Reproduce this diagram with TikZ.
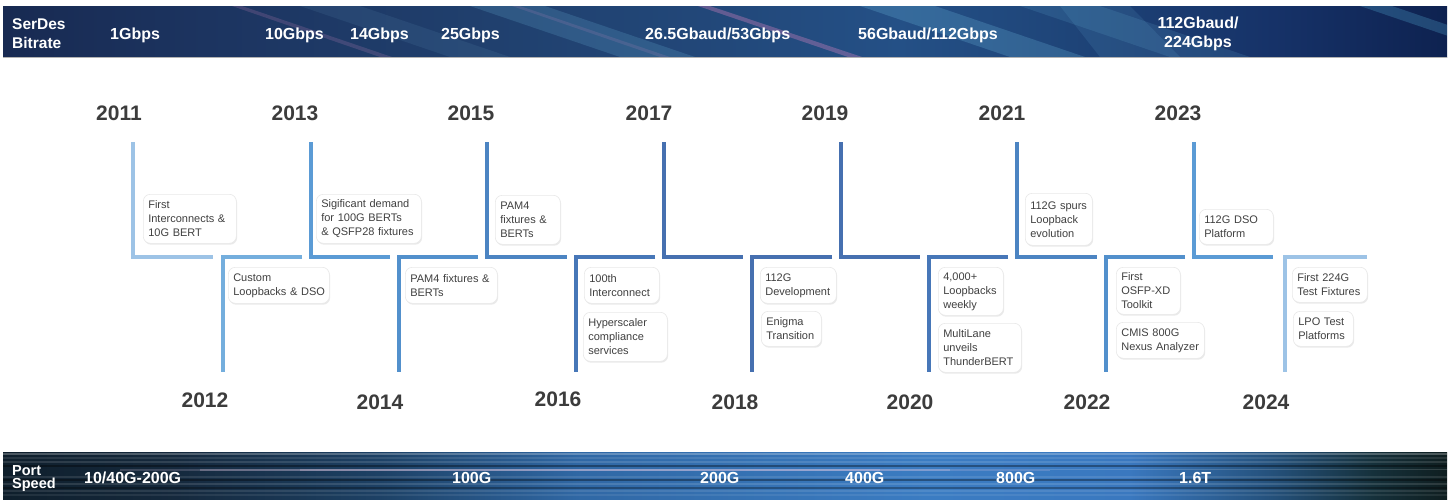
\documentclass[tikz,border=0pt]{standalone}
\usepackage{fontspec}
\setmainfont{Liberation Sans}
\usetikzlibrary{shadows}

\definecolor{txtgray}{HTML}{404040}
\definecolor{yeargray}{HTML}{3C3C3C}
\definecolor{ca}{HTML}{9DC3E6}
\definecolor{cb}{HTML}{74AEDD}
\definecolor{cc}{HTML}{5B9BD5}
\definecolor{cd}{HTML}{5290CC}
\definecolor{ce}{HTML}{4C84C2}
\definecolor{cf}{HTML}{4777B8}
\definecolor{cg}{HTML}{4670B0}

\pgfdeclarehorizontalshading{topban}{100bp}{%
 color(0bp)=(rgb,255:red,24;green,42;blue,82);
 color(25bp)=(rgb,255:red,24;green,42;blue,82);
 color(32bp)=(rgb,255:red,28;green,52;blue,96);
 color(42bp)=(rgb,255:red,32;green,64;blue,110);
 color(50bp)=(rgb,255:red,34;green,72;blue,122);
 color(56bp)=(rgb,255:red,36;green,80;blue,134);
 color(62bp)=(rgb,255:red,30;green,68;blue,120);
 color(69bp)=(rgb,255:red,22;green,50;blue,104);
 color(75bp)=(rgb,255:red,14;green,34;blue,80);
 color(100bp)=(rgb,255:red,14;green,34;blue,80)}

\pgfdeclarehorizontalshading{botban}{100bp}{%
 color(0bp)=(rgb,255:red,15;green,31;blue,44);
 color(25bp)=(rgb,255:red,15;green,31;blue,44);
 color(31bp)=(rgb,255:red,21;green,41;blue,61);
 color(38bp)=(rgb,255:red,29;green,65;blue,101);
 color(45bp)=(rgb,255:red,48;green,104;blue,165);
 color(57bp)=(rgb,255:red,59;green,124;blue,194);
 color(64bp)=(rgb,255:red,58;green,120;blue,191);
 color(69bp)=(rgb,255:red,36;green,80;blue,122);
 color(72.5bp)=(rgb,255:red,21;green,48;blue,58);
 color(75bp)=(rgb,255:red,15;green,30;blue,32);
 color(100bp)=(rgb,255:red,15;green,30;blue,32)}

\newcommand{\twoh}{36pt}
\newcommand{\threeh}{49pt}

\begin{document}
\begin{tikzpicture}[x=1pt,y=-1pt,
  yr/.style={font=\fontsize{21}{21}\selectfont\bfseries, text=yeargray, inner sep=0pt},
  ev/.style={draw=black!9, line width=0.6pt, fill=white, rounded corners=7pt,
    align=left, anchor=north west, inner xsep=5pt, inner ysep=0pt,
    font=\fontsize{11}{14}\selectfont, text=txtgray,
    drop shadow={shadow xshift=0.8pt, shadow yshift=-1.4pt, opacity=0.16}},
  tl/.style={line width=3.3pt, line join=miter},
  ban/.style={font=\fontsize{16}{16}\selectfont\bfseries, text=white, inner sep=0pt, anchor=base west},
  lab/.style={font=\fontsize{15.5}{15.5}\selectfont\bfseries, text=white, inner sep=0pt, anchor=base west},
]
\useasboundingbox (0,0) rectangle (1453,499);
\fill[white] (0,0) rectangle (1453,499);

% ---------- top banner ----------
\begin{scope}
\clip (3,6) rectangle (1447,57);
\shade[shading=topban] (3,6) rectangle (1447,57);
% diagonal light streaks running down to the right
\fill[cyan!40!white, opacity=0.08] (300,6) -- (360,6) -- (510,57) -- (450,57) -- cycle;
\fill[magenta!40!white, opacity=0.16] (232,6) -- (242,6) -- (392,57) -- (380,57) -- cycle;
\fill[cyan!50!white, opacity=0.16] (470,6) -- (545,6) -- (695,57) -- (620,57) -- cycle;
\fill[magenta!40!white, opacity=0.12] (512,6) -- (520,6) -- (670,57) -- (660,57) -- cycle;
\fill[magenta!45!white, opacity=0.30] (698,6) -- (710,6) -- (862,57) -- (848,57) -- cycle;
\fill[cyan!50!white, opacity=0.20] (860,6) -- (935,6) -- (1085,57) -- (1010,57) -- cycle;
\fill[cyan!50!white, opacity=0.12] (1020,6) -- (1100,6) -- (1250,57) -- (1170,57) -- cycle;
\fill[cyan!60!white, opacity=0.22] (1360,6) -- (1392,6) -- (1542,57) -- (1510,57) -- cycle;
\fill[cyan!50!white, opacity=0.10] (1100,57) -- (1180,57) -- (1130,6) -- (1060,6) -- cycle;
\end{scope}
\draw[gray!60, line width=0.8pt] (3,57) -- (1447,57);

\node[lab] (sd1) at (12,29) {SerDes};
\node[lab] (sd2) at (12,48.5) {Bitrate};
\node[ban] (t1) at (110,39.5) {1Gbps};
\node[ban] (t2) at (265,39.5) {10Gbps};
\node[ban] (t3) at (350,39.5) {14Gbps};
\node[ban] (t4) at (441,39.5) {25Gbps};
\node[ban] (t5) at (645,39.5) {26.5Gbaud/53Gbps};
\node[ban] (t6) at (858,39.5) {56Gbaud/112Gbps};
\node[ban, anchor=base] (t7a) at (1198,28) {112Gbaud/};
\node[ban, anchor=base] (t7b) at (1198,47) {224Gbps};

% ---------- bottom banner ----------
\begin{scope}
\clip (3,452) rectangle (1447,499);
\shade[shading=botban] (3,452) rectangle (1447,499);
\foreach \yy/\op in {454/0.25, 458/0.10, 462/0.12, 477/0.10, 484/0.12, 491/0.10, 495/0.08}
  \draw[white, opacity=\op, line width=1.2pt] (3,\yy) -- (1447,\yy);
\foreach \yy/\op in {466/0.35, 480/0.35, 488/0.3}
  \draw[black, opacity=\op, line width=1.5pt] (3,\yy) -- (1447,\yy);
\draw[white!80!violet, opacity=0.20, line width=2pt] (120,469.5) -- (1050,469.5);
\draw[white!80!violet, opacity=0.25, line width=2pt] (200,469.5) -- (950,469.5);
\draw[white!80!violet, opacity=0.25, line width=2pt] (300,469.5) -- (880,469.5);
\draw[white, opacity=0.15, line width=1pt] (1050,469.5) -- (1447,469.5);
\end{scope}

\node[font=\fontsize{14.5}{14.5}\selectfont\bfseries, text=white, inner sep=0pt, anchor=base west] (ps1) at (12,475) {Port};
\node[font=\fontsize{14.5}{14.5}\selectfont\bfseries, text=white, inner sep=0pt, anchor=base west] (ps2) at (12,488) {Speed};
\node[ban] (p1) at (84,483) {10/40G-200G};
\node[ban] (p2) at (452,483) {100G};
\node[ban] (p3) at (700,483) {200G};
\node[ban] (p4) at (845,483) {400G};
\node[ban] (p5) at (996,483) {800G};
\node[ban] (p6) at (1179,483) {1.6T};

% ---------- timeline lines ----------
\foreach \x/\e/\c [count=\i] in {133/213/ca, 311/390/cc, 487/567/ce, 664/743/cg, 841/920/cg, 1017/1097/ce, 1194/1273/cc}{
  \coordinate (ut\i) at (\x,142);
  \coordinate (uc\i) at (\x,257);
  \coordinate (ue\i) at (\e,257);
  \draw[tl, draw=\c] (ut\i) -- (uc\i) -- (ue\i);
}
\foreach \x/\e/\c [count=\i] in {223/302/cb, 399/478/cd, 576/655/cf, 752/832/cg, 929/1008/cf, 1106/1185/cd, 1285/1367/ca}{
  \coordinate (le\i) at (\e,257);
  \coordinate (lc\i) at (\x,257);
  \coordinate (lb\i) at (\x,372);
  \draw[tl, draw=\c] (le\i) -- (lc\i) -- (lb\i);
}

% ---------- years ----------
\node[yr] (y2011) at (119,113) {2011};
\node[yr] (y2013) at (295,113) {2013};
\node[yr] (y2015) at (471,113) {2015};
\node[yr] (y2017) at (649,113) {2017};
\node[yr] (y2019) at (825,113) {2019};
\node[yr] (y2021) at (1002,113) {2021};
\node[yr] (y2023) at (1178,113) {2023};
\node[yr] (y2012) at (205,400) {2012};
\node[yr] (y2014) at (380,402) {2014};
\node[yr] (y2016) at (558,399) {2016};
\node[yr] (y2018) at (735,402) {2018};
\node[yr] (y2020) at (910,402) {2020};
\node[yr] (y2022) at (1087,402) {2022};
\node[yr] (y2024) at (1266,402) {2024};

% ---------- event boxes ----------
\node[ev, text width=83pt, minimum height=\threeh] (b2011) at (143,194) {First\\Interconnects~\&\\10G~BERT};
\node[ev, text width=91pt, minimum height=\twoh] (b2012) at (228,267) {Custom\\Loopbacks~\&~DSO};
\node[ev, text width=95pt, minimum height=\threeh] (b2013) at (316,194) {Sigificant~demand\\for~100G~BERTs\\\&~QSFP28~fixtures};
\node[ev, text width=82pt, minimum height=\twoh] (b2014) at (405,267) {PAM4~fixtures~\&\\BERTs};
\node[ev, text width=55pt, minimum height=\threeh] (b2015) at (495,195) {PAM4\\fixtures~\&\\BERTs};
\node[ev, text width=65pt, minimum height=\twoh] (b2016a) at (584,267) {100th\\Interconnect};
\node[ev, text width=74pt, minimum height=\threeh] (b2016b) at (583,312) {Hyperscaler\\compliance\\services};
\node[ev, text width=66pt, minimum height=\twoh] (b2018a) at (760,267) {112G\\Development};
\node[ev, text width=50pt, minimum height=35pt] (b2018b) at (761,311) {Enigma\\Transition};
\node[ev, text width=55pt, minimum height=48pt] (b2020a) at (938,267) {4,000+\\Loopbacks\\weekly};
\node[ev, text width=73pt, minimum height=\threeh] (b2020b) at (938,323) {MultiLane\\unveils\\ThunderBERT};
\node[ev, text width=57pt, minimum height=52pt] (b2021) at (1025,193) {112G~spurs\\Loopback\\evolution};
\node[ev, text width=54pt, minimum height=47pt] (b2022a) at (1116,267) {First\\OSFP-XD\\Toolkit};
\node[ev, text width=78pt, minimum height=\twoh] (b2022b) at (1116,322) {CMIS~800G\\Nexus~Analyzer};
\node[ev, text width=64pt, minimum height=35pt] (b2023) at (1199,209) {112G~DSO\\Platform};
\node[ev, text width=65pt, minimum height=35pt] (b2024a) at (1292,267) {First~224G\\Test~Fixtures};
\node[ev, text width=50pt, minimum height=35pt] (b2024b) at (1293,311) {LPO~Test\\Platforms};
\end{tikzpicture}
\end{document}
